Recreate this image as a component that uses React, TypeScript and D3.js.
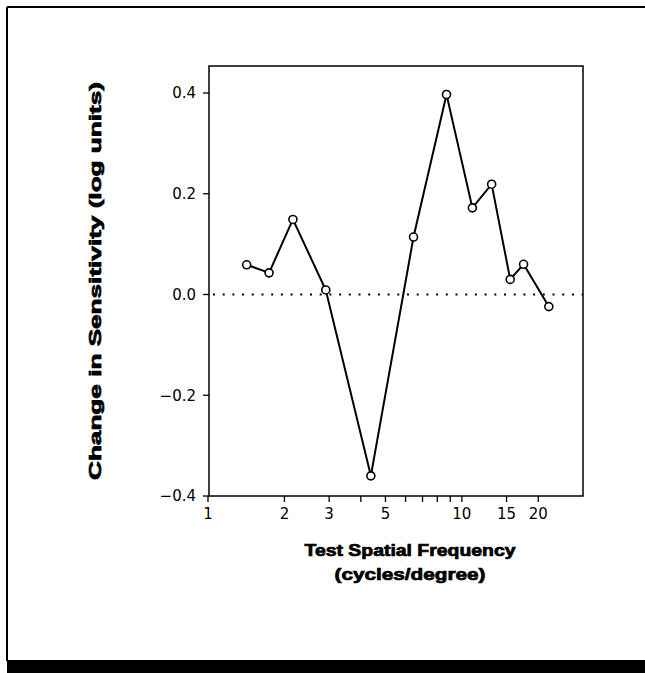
import React from "react";
import * as d3 from "d3";

const freqs = [1.42, 1.74, 2.16, 2.91, 4.38, 6.45, 8.7, 11.0, 13.1, 15.5, 17.5, 22.0];
const changes = [0.059, 0.043, 0.149, 0.009, -0.36, 0.114, 0.397, 0.172, 0.219, 0.03, 0.06, -0.024];
const xTicks = [1, 2, 3, 4, 5, 6, 7, 8, 9, 10, 15, 20];
const xTickLabels = [1, 2, 3, 5, 10, 15, 20];
const yTicks = [-0.4, -0.2, 0, 0.2, 0.4];
const yLabel = "Change in Sensitivity (log units)";
const xLabel1 = "Test Spatial Frequency";
const xLabel2 = "(cycles/degree)";

const W = 645;
const H = 673;
const L = 209, R = 583, T = 66, B = 496;

export default function App() {
  const x = d3.scaleLog().domain([1, 30]).range([L - 1, R]);
  const y = d3.scaleLinear().domain([-0.4, 0.4]).range([B, 93]);
  const pts = freqs.map((f, i) => [x(f), y(changes[i])] as [number, number]);
  const line = d3.line()(pts) || "";
  const font = "'Liberation Sans', Arial, sans-serif";
  const tickFont = "'DejaVu Sans', Verdana, sans-serif";
  const fmtY = (v: number) => (v < 0 ? "\u2212" + Math.abs(v).toFixed(1) : v.toFixed(1));
  return (
    <svg width={W} height={H} style={{ position: "absolute", left: 0, top: 0, background: "#fff" }}>
      {/* outer frame */}
      <line x1={7} y1={7} x2={W} y2={7} stroke="#000" strokeWidth={2} />
      <line x1={7} y1={7} x2={7} y2={661} stroke="#000" strokeWidth={2} />
      <rect x={7} y={660} width={W - 7} height={H - 660} fill="#000" />

      {/* plot box */}
      <rect x={L} y={T} width={R - L} height={B - T} fill="none" stroke="#000" strokeWidth={1.5} />

      {/* zero dotted line */}
      <line x1={L + 4} y1={y(0)} x2={R} y2={y(0)} stroke="#000" strokeWidth={2.2} strokeDasharray="2 7.7" />

      {/* y ticks */}
      {yTicks.map((t) => (
        <g key={"y" + t}>
          <line x1={L - 6} x2={L} y1={y(t)} y2={y(t)} stroke="#000" strokeWidth={1.3} />
          <text x={L - 13} y={y(t)} dy="0.36em" textAnchor="end" fontFamily={tickFont} fontSize={15} fill="#000">
            {fmtY(t)}
          </text>
        </g>
      ))}

      {/* x ticks */}
      {xTicks.map((t) => (
        <line key={"x" + t} x1={x(t)} x2={x(t)} y1={B} y2={B + 6} stroke="#000" strokeWidth={1.3} />
      ))}
      {xTickLabels.map((t) => (
        <text key={"xl" + t} x={x(t)} y={B + 23} textAnchor="middle" fontFamily={tickFont} fontSize={15} fill="#000">
          {t}
        </text>
      ))}

      {/* data line */}
      <path d={line} fill="none" stroke="#000" strokeWidth={2} />
      {pts.map((p, i) => (
        <circle key={i} cx={p[0]} cy={p[1]} r={4} fill="#fff" stroke="#000" strokeWidth={1.6} />
      ))}

      {/* axis titles */}
      <g fontFamily={font} fontWeight={900} fontSize={16} fill="#000" stroke="#000" strokeWidth={0.7}>
        <text
          transform={`translate(101,281) rotate(-90)`}
          textAnchor="middle"
          textLength={398}
          lengthAdjust="spacingAndGlyphs"
        >
          {yLabel}
        </text>
        <text x={410} y={556} textAnchor="middle" textLength={211} lengthAdjust="spacingAndGlyphs">
          {xLabel1}
        </text>
        <text x={410} y={580} textAnchor="middle" textLength={151} lengthAdjust="spacingAndGlyphs">
          {xLabel2}
        </text>
      </g>
    </svg>
  );
}
